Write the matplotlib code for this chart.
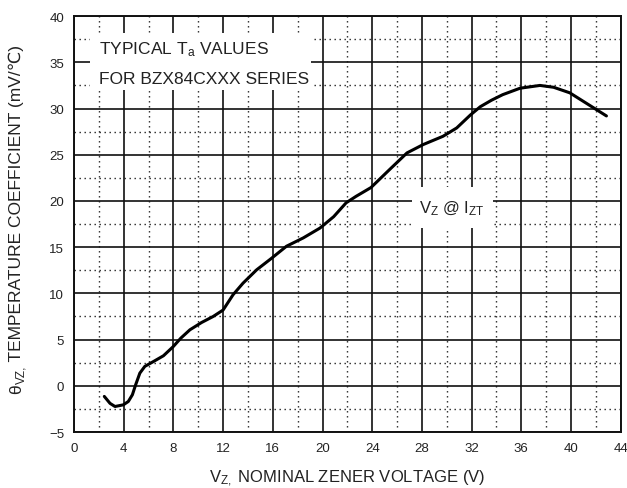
import matplotlib
matplotlib.use("Agg")
import matplotlib.pyplot as plt
from matplotlib.patches import Rectangle

plt.rcParams['font.family'] = ['Liberation Sans', 'DejaVu Sans']
plt.rcParams['mathtext.fontset'] = 'custom'
plt.rcParams['mathtext.rm'] = 'Liberation Sans'
plt.rcParams['mathtext.it'] = 'Liberation Sans'
plt.rcParams['mathtext.bf'] = 'Liberation Sans'

# Data
vz = [2.44, 2.9, 3.3, 3.97, 4.37, 4.7, 4.96, 5.3, 5.7, 6.4, 7.2, 8.0, 8.6, 9.33,
      10.27, 11.2, 12.0, 12.8, 13.6, 14.7, 15.9, 17.1, 18.45, 19.8, 20.9, 21.9,
      22.7, 23.9, 25.4, 26.8, 28.1, 29.7, 30.8, 31.9, 32.7, 33.6, 34.5, 35.9,
      37.5, 38.6, 39.9, 41.2, 42.85]
theta = [-1.15, -1.9, -2.24, -2.06, -1.7, -0.97, 0.1, 1.37, 2.1, 2.63, 3.25, 4.26, 5.16, 6.06,
         6.85, 7.5, 8.2, 9.85, 11.1, 12.55, 13.8, 15.1, 16.0, 17.07, 18.3, 19.8,
         20.5, 21.45, 23.4, 25.2, 26.1, 27.0, 27.9, 29.3, 30.2, 30.9, 31.5, 32.2,
         32.5, 32.3, 31.7, 30.6, 29.2]

x_ticks = [0, 4, 8, 12, 16, 20, 24, 28, 32, 36, 40, 44]
y_ticks = [-5, 0, 5, 10, 15, 20, 25, 30, 35, 40]
x_minor = [2, 6, 10, 14, 18, 22, 26, 30, 34, 38, 42]
y_minor = [-2.5, 2.5, 7.5, 12.5, 17.5, 22.5, 27.5, 32.5, 37.5]

TXT = '#222222'

fig = plt.figure(figsize=(6.27, 4.89), dpi=100)
ax = fig.add_axes([0.118, 0.1145, 0.872, 0.8505])
ax.set_xlim(0, 44)
ax.set_ylim(-5, 40)
ax.set_xticks(x_ticks)
ax.set_yticks(y_ticks)
ax.set_xticks(x_minor, minor=True)
ax.set_yticks(y_minor, minor=True)
ax.tick_params(which='both', length=0, labelsize=9.5, colors=TXT)
ax.tick_params(axis='x', pad=7)
ax.tick_params(axis='y', pad=7)
ax.set_axisbelow(True)
ax.grid(which='major', color='#111111', linewidth=1.2)
ax.grid(which='minor', color='#222222', linewidth=1.0, linestyle=(0, (1, 2.6)))
for s in ax.spines.values():
    s.set_linewidth(1.4)
    s.set_color('#111111')

# white boxes for annotations
ax.add_patch(Rectangle((1.3, 32.0), 17.8, 6.2, facecolor='white', edgecolor='none', zorder=1.5))
ax.add_patch(Rectangle((27.2, 17.1), 6.5, 4.4, facecolor='white', edgecolor='none', zorder=1.5))

ax.plot(vz, theta, color='black', linewidth=2.2, zorder=3,
        solid_capstyle='round', solid_joinstyle='round')

ax.text(2.0, 36.5, r'TYPICAL $\mathregular{T_a}$ VALUES', fontsize=12.5, va='center', ha='left', color=TXT, zorder=4)
ax.text(2.0, 33.3, 'FOR BZX84CXXX SERIES', fontsize=12.5, va='center', ha='left', color=TXT, zorder=4)
ax.text(30.4, 19.3, r'$\mathregular{V_Z}$ @ $\mathregular{I_{ZT}}$', fontsize=12, va='center', ha='center', color=TXT, zorder=4)

ax.set_xlabel(r'$\mathregular{V_{Z,}}$ NOMINAL ZENER VOLTAGE (V)', fontsize=12, color=TXT, labelpad=10)

# y label composed of pieces (theta with subscript, then plain text with the ℃ sign)
fig.canvas.draw()
r = fig.canvas.get_renderer()
W, H = fig.bbox.width, fig.bbox.height
xb = 21.0
y0 = 95.0
kw = dict(rotation=90, rotation_mode='anchor', ha='left', va='baseline', color=TXT)
t1 = fig.text(xb / W, y0 / H, 'θ', fontsize=12.5, **kw)
h1 = t1.get_window_extent(r).height
t2 = fig.text((xb + 3.5) / W, (y0 + h1) / H, 'VZ,', fontsize=8.5, **kw)
h2 = t2.get_window_extent(r).height
fig.text(xb / W, (y0 + h1 + h2) / H, ' TEMPERATURE COEFFICIENT (mV/℃)', fontsize=12.5, **kw)

fig.savefig('out.png', dpi=100)
